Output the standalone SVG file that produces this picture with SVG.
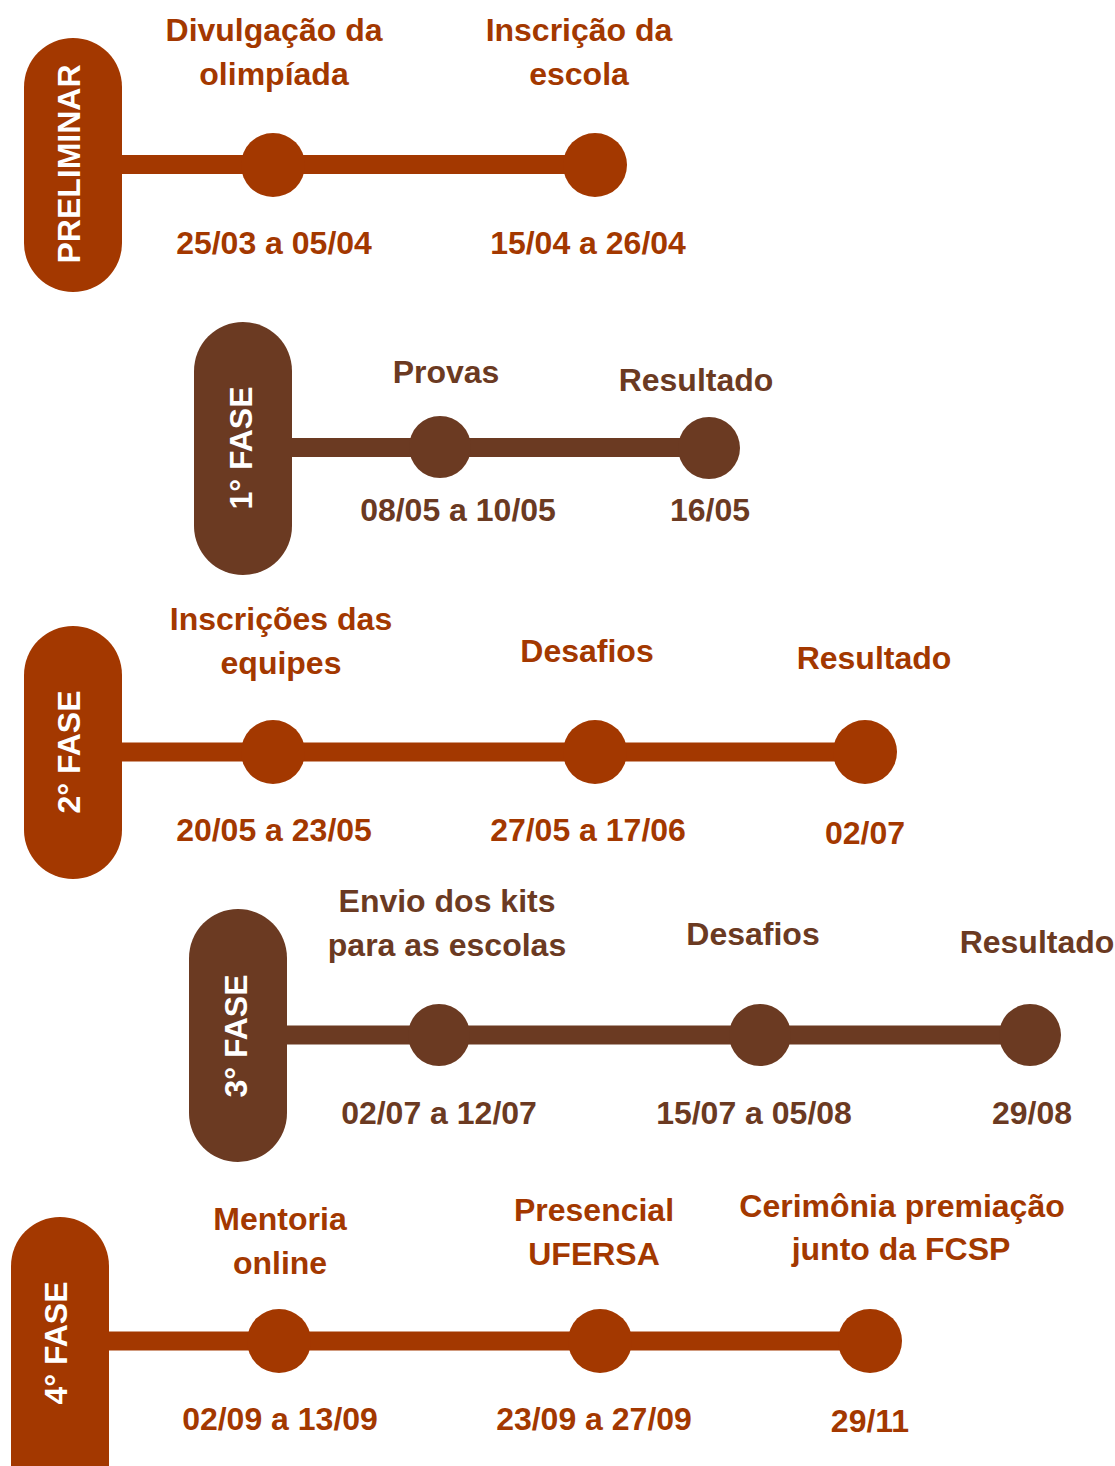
<svg xmlns="http://www.w3.org/2000/svg" width="1115" height="1466" viewBox="0 0 1115 1466">
<style>
.o{fill:#A33800}
.b{fill:#6B3A22}
.lo{stroke:#A33800;stroke-width:19;fill:none}
.lb{stroke:#6B3A22;stroke-width:19;fill:none}
text{font-family:"Liberation Sans",Arial,sans-serif;font-weight:bold;font-size:32px;text-anchor:middle}
.to{fill:#A33800}
.tb{fill:#6B3A22}
.tw{fill:#FFFFFF}
</style>
<rect width="1115" height="1466" fill="#FFFFFF"/>
<g id="connectors">
<line class="lo" x1="110" y1="164.5" x2="595" y2="164.5"/>
<line class="lb" x1="280" y1="447.5" x2="709" y2="447.5"/>
<line class="lo" x1="110" y1="752" x2="865" y2="752"/>
<line class="lb" x1="275" y1="1035" x2="1030" y2="1035"/>
<line class="lo" x1="97" y1="1341" x2="870" y2="1341"/>
</g>
<g id="preliminar">
<rect class="o" x="24" y="38" width="98" height="254" rx="49" ry="49"/>
<text class="tw" transform="translate(80,164) rotate(-90)">PRELIMINAR</text>
</g>
<g id="p1">
<circle class="o" cx="273" cy="165" r="32"/>
<text class="to" x="274" y="41">Divulgação da</text>
<text class="to" x="274" y="85">olimpíada</text>
<text class="to" x="274" y="254">25/03 a 05/04</text>
</g>
<g id="p2">
<circle class="o" cx="595" cy="165" r="32"/>
<text class="to" x="579" y="41">Inscrição da</text>
<text class="to" x="579" y="85">escola</text>
<text class="to" x="588" y="254">15/04 a 26/04</text>
</g>
<g id="fase1">
<rect class="b" x="194" y="322" width="98" height="253" rx="49" ry="49"/>
<text class="tw" transform="translate(252,448) rotate(-90)">1° FASE</text>
</g>
<g id="f1a">
<circle class="b" cx="440" cy="447" r="31"/>
<text class="tb" x="446" y="383">Provas</text>
<text class="tb" x="458" y="521">08/05 a 10/05</text>
</g>
<g id="f1b">
<circle class="b" cx="709" cy="448" r="31"/>
<text class="tb" x="696" y="391">Resultado</text>
<text class="tb" x="710" y="521">16/05</text>
</g>
<g id="fase2">
<rect class="o" x="24" y="626" width="98" height="253" rx="49" ry="49"/>
<text class="tw" transform="translate(80,752) rotate(-90)">2° FASE</text>
</g>
<g id="f2a">
<circle class="o" cx="273" cy="752" r="32"/>
<text class="to" x="281" y="630">Inscrições das</text>
<text class="to" x="281" y="674">equipes</text>
<text class="to" x="274" y="841">20/05 a 23/05</text>
</g>
<g id="f2b">
<circle class="o" cx="595" cy="752" r="32"/>
<text class="to" x="587" y="662">Desafios</text>
<text class="to" x="588" y="841">27/05 a 17/06</text>
</g>
<g id="f2c">
<circle class="o" cx="865" cy="752" r="32"/>
<text class="to" x="874" y="669">Resultado</text>
<text class="to" x="865" y="844">02/07</text>
</g>
<g id="fase3">
<rect class="b" x="189" y="909" width="98" height="253" rx="49" ry="49"/>
<text class="tw" transform="translate(247,1036) rotate(-90)">3° FASE</text>
</g>
<g id="f3a">
<circle class="b" cx="439" cy="1035" r="31"/>
<text class="tb" x="447" y="912">Envio dos kits</text>
<text class="tb" x="447" y="956">para as escolas</text>
<text class="tb" x="439" y="1124">02/07 a 12/07</text>
</g>
<g id="f3b">
<circle class="b" cx="760" cy="1035" r="31"/>
<text class="tb" x="753" y="945">Desafios</text>
<text class="tb" x="754" y="1124">15/07 a 05/08</text>
</g>
<g id="f3c">
<circle class="b" cx="1030" cy="1035" r="31"/>
<text class="tb" x="1037" y="953">Resultado</text>
<text class="tb" x="1032" y="1124">29/08</text>
</g>
<g id="fase4">
<rect class="o" x="11" y="1217" width="98" height="298" rx="49" ry="49"/>
<text class="tw" transform="translate(67,1343) rotate(-90)">4° FASE</text>
</g>
<g id="f4a">
<circle class="o" cx="279" cy="1341" r="32"/>
<text class="to" x="280" y="1230">Mentoria</text>
<text class="to" x="280" y="1274">online</text>
<text class="to" x="280" y="1430">02/09 a 13/09</text>
</g>
<g id="f4b">
<circle class="o" cx="600" cy="1341" r="32"/>
<text class="to" x="594" y="1221">Presencial</text>
<text class="to" x="594" y="1265">UFERSA</text>
<text class="to" x="594" y="1430">23/09 a 27/09</text>
</g>
<g id="f4c">
<circle class="o" cx="870" cy="1341" r="32"/>
<text class="to" x="902" y="1217">Cerimônia premiação</text>
<text class="to" x="901" y="1260">junto da FCSP</text>
<text class="to" x="870" y="1432">29/11</text>
</g>
</svg>
